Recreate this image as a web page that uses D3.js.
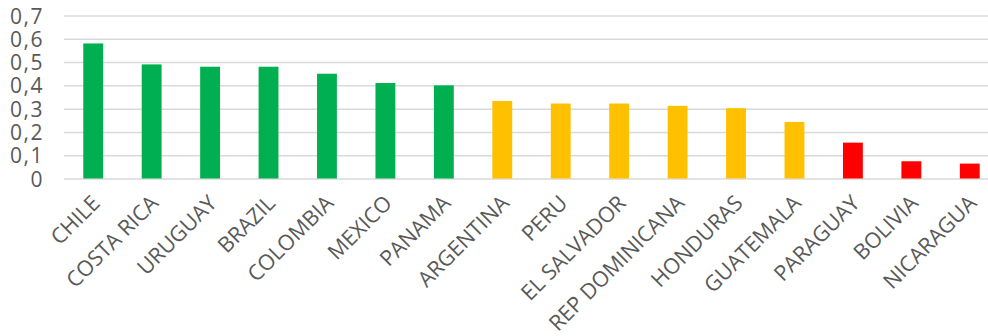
<!DOCTYPE html>
<html>
<head>
<meta charset="utf-8">
<script src="https://cdn.jsdelivr.net/npm/d3@7"></script>
<style>
  body { margin: 0; background: #fff; }
  .chart text { font-family: "Open Sans", sans-serif; fill: #595959; }
</style>
</head>
<body>
<div class="chart"></div>
<script>
// data
const countries = ['CHILE', 'COSTA RICA', 'URUGUAY', 'BRAZIL', 'COLOMBIA', 'MEXICO', 'PANAMA',
  'ARGENTINA', 'PERU', 'EL SALVADOR', 'REP DOMINICANA', 'HONDURAS', 'GUATEMALA',
  'PARAGUAY', 'BOLIVIA', 'NICARAGUA'];
const values = [0.58, 0.49, 0.48, 0.48, 0.45, 0.41, 0.40,
  0.333, 0.322, 0.322, 0.312, 0.302, 0.243,
  0.154, 0.074, 0.064];
const groups = ['high', 'high', 'high', 'high', 'high', 'high', 'high',
  'mid', 'mid', 'mid', 'mid', 'mid', 'mid',
  'low', 'low', 'low'];
const yTicks = [0, 0.1, 0.2, 0.3, 0.4, 0.5, 0.6, 0.7];

const colorOf = {high: '#00B050', mid: '#FFC000', low: '#FF0000'};

// comma as decimal mark
const locale = d3.formatLocale({decimal: ',', thousands: '.', grouping: [3], currency: ['', '']});
const fmt = d => d === 0 ? '0' : locale.format('.1f')(d);

function draw() {
  const width = 988, height = 336;
  const margin = {top: 15.5, left: 64, bottom: 157.5};
  const plotRight = 999;

  const svg = d3.select('.chart').append('svg')
    .attr('width', width).attr('height', height);

  const x = d3.scaleBand().domain(countries)
    .range([margin.left, plotRight])
    .paddingInner(0.66).paddingOuter(0.33);
  const y = d3.scaleLinear().domain([0, 0.7])
    .range([height - margin.bottom, margin.top]);

  // gridlines + y labels
  const yAxis = d3.axisLeft(y).tickValues(yTicks).tickFormat(fmt)
    .tickSizeInner(-(plotRight - margin.left)).tickSizeOuter(0).tickPadding(20);
  const gy = svg.append('g').attr('transform', `translate(${margin.left},0)`).call(yAxis);
  gy.select('.domain').remove();
  gy.selectAll('line').attr('stroke', '#d9d9d9').attr('stroke-width', 1.5);
  gy.selectAll('text').style('font-size', '21px').style('letter-spacing', '1.5px').attr('dy', '0.36em');

  const data = countries.map((c, i) => ({country: c, value: values[i], group: groups[i]}));

  svg.selectAll('.bar').data(data).enter()
    .append('rect').attr('class', 'bar')
    .attr('x', d => x(d.country))
    .attr('y', d => y(d.value))
    .attr('width', x.bandwidth())
    .attr('height', d => y(0) - y(d.value))
    .style('fill', d => colorOf[d.group]);

  // x labels rotated
  const xAxis = d3.axisBottom(x).tickSize(0).tickPadding(0);
  const gx = svg.append('g').attr('transform', `translate(0,${y(0)})`).call(xAxis);
  gx.select('.domain').remove();
  gx.selectAll('text')
    .style('font-size', '21.5px')
    .attr('text-anchor', 'end')
    .attr('dy', 0).attr('y', 0)
    .attr('transform', 'translate(8,26) rotate(-45)');
}

draw();
</script>
</body>
</html>
